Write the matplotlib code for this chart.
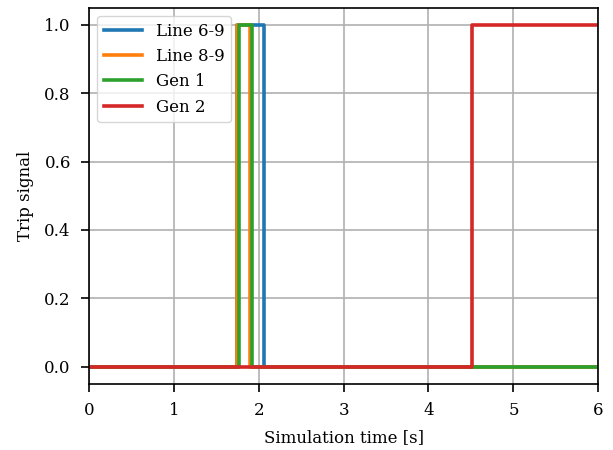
import matplotlib
matplotlib.use('Agg')
import matplotlib.pyplot as plt

# trip signals (step-post): switching times and levels
t_line69 = [0, 1.75, 2.06, 6]
y_line69 = [0, 1, 0, 0]
t_line89 = [0, 1.75, 1.90, 6]
y_line89 = [0, 1, 0, 0]
t_gen1 = [0, 1.77, 1.92, 6]
y_gen1 = [0, 1, 0, 0]
t_gen2 = [0, 4.51, 6]
y_gen2 = [0, 1, 1]

plt.rcParams['font.family'] = 'DejaVu Serif'
plt.rcParams['font.size'] = 12

fig = plt.figure(figsize=(6.13, 4.5), dpi=100)
ax = fig.add_axes([0.145, 0.147, 0.831, 0.836])

ax.plot(t_line69, y_line69, color='#1f77b4', lw=2.6, drawstyle='steps-post', label='Line 6-9')
ax.plot(t_line89, y_line89, color='#ff7f0e', lw=2.6, drawstyle='steps-post', label='Line 8-9')
ax.plot(t_gen1, y_gen1, color='#2ca02c', lw=2.6, drawstyle='steps-post', label='Gen 1')
ax.plot(t_gen2, y_gen2, color='#d62728', lw=2.6, drawstyle='steps-post', label='Gen 2')

ax.set_xlim(0, 6)
ax.set_ylim(-0.05, 1.05)
ax.set_xticks([0, 1, 2, 3, 4, 5, 6])
ax.set_yticks([0.0, 0.2, 0.4, 0.6, 0.8, 1.0])
ax.grid(True, color='#b0b0b0', lw=1.2)
ax.tick_params(direction='out', length=6, width=1.2, pad=7)
for s in ax.spines.values():
    s.set_linewidth(1.2)
ax.set_xlabel('Simulation time [s]', labelpad=7.5)
ax.set_ylabel('Trip signal', labelpad=7.5)
ax.legend(loc='upper left', handlelength=2.3)

fig.savefig('out.png', dpi=100)
